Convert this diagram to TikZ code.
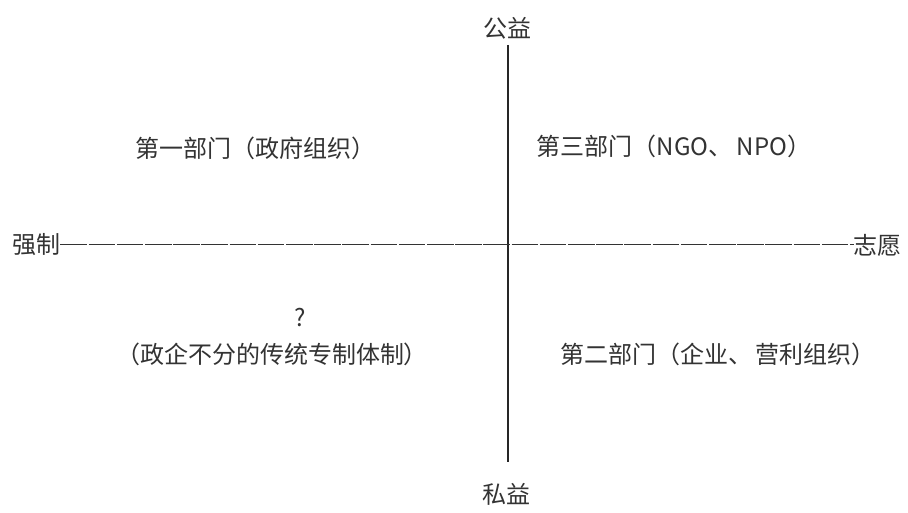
\documentclass[tikz,border=0pt]{standalone}
\usepackage{fontspec}
\setmainfont{Noto Sans CJK SC}
\newfontfamily\cjk{Noto Sans CJK SC}
\begin{document}
\begin{tikzpicture}[x=1pt,y=-1pt,
  lbl/.style={inner sep=0pt,font=\cjk\fontsize{24}{28}\selectfont,text=black!80}]
\useasboundingbox (0,0) rectangle (908,513);
\fill[white] (0,0) rectangle (908,513);
\node[lbl] (pub) at (507,28) {公益};
\node[lbl] (pri) at (506,494) {私益};
\node[lbl,anchor=west] (force) at (12,245) {强制};
\node[lbl,anchor=east] (vol) at (902,245) {志愿};
\node[lbl] (s1) at (255,148) {第一部门（政府组织）};
\node[lbl] (s3) at (674,146) {第三部门（NGO、\,NPO）};
\node[lbl] (q) at (300,318) {?};
\node[lbl] (s0) at (272,354) {（政企不分的传统专制体制）};
\node[lbl] (s2) at (718,354) {第二部门（企业、\,营利组织）};
\coordinate (vt) at (508,45);
\coordinate (vb) at (508,462);
\draw[line width=1.8pt,black!85] (vt) -- (vb);
\draw[line width=1pt,black!80,dash pattern=on 26.5pt off 1.7pt] (force.east) -- (vol.west);
\end{tikzpicture}
\end{document}
